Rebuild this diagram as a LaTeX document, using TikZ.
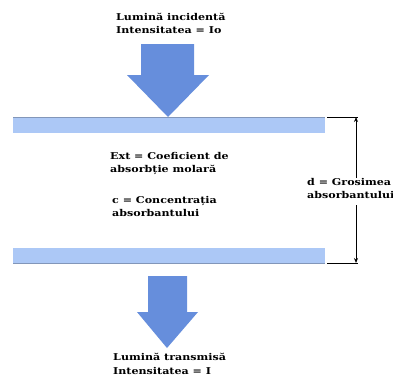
\documentclass[tikz,border=0pt]{standalone}
\usepackage{fontspec}
\newfontfamily\lblfont[FakeStretch=1.18]{DejaVu Serif}
\usepackage{tikz}
\usetikzlibrary{arrows.meta}
\definecolor{arrowblue}{RGB}{102,142,220}
\definecolor{barblue}{RGB}{172,200,246}
\definecolor{baredge}{RGB}{130,150,185}
\begin{document}
\begin{tikzpicture}[x=1pt,y=-1pt,
  lbl/.style={font=\lblfont\fontsize{9.4}{13.5}\selectfont\bfseries, align=left, inner sep=0pt, anchor=north west},
  bar/.style={fill=barblue, draw=none},
  bigarrow/.style={fill=arrowblue, draw=none},
  dimline/.style={draw=black, line width=0.9pt},
]
\useasboundingbox (0,0) rectangle (393,376);
% top label
\node[lbl] (top) at (116,13) {Lumină incidentă\\Intensitatea = Io};
% top arrow
\fill[bigarrow] (141,44) -- (194,44) -- (194,75) -- (209,75) -- (168,117) -- (127,75) -- (141,75) -- cycle;
% bars
\node[bar, minimum width=312, minimum height=16, inner sep=0pt, anchor=north west] (bar1) at (13,117) {};
\draw[baredge, line width=0.6pt] (bar1.north west) -- (bar1.north east);
\node[bar, minimum width=312, minimum height=15, inner sep=0pt, anchor=north west] (bar2) at (13,248) {};
\draw[baredge, line width=0.6pt] (bar2.south west) -- (bar2.south east);
% middle texts
\node[lbl] (ext) at (110,152) {Ext = Coeficient de\\absorbție molară};
\node[lbl] (conc) at (112,196) {c = Concentrația\\absorbantului};
% dimension
\coordinate (t1) at (327,117);
\coordinate (t2) at (358,117);
\coordinate (b1) at (327,263);
\coordinate (b2) at (358,263);
\coordinate (dtop) at (356,117);
\coordinate (dbot) at (356,263);
\draw[dimline] (t1) -- (t2);
\draw[dimline] (b1) -- (b2);
\node[lbl, anchor=north west] (dlab) at (307,178) {d = Grosimea\\absorbantului};
\draw[dimline, -{Stealth[length=5pt,width=4pt]}] (356,178) -- (dtop);
\draw[dimline, -{Stealth[length=5pt,width=4pt]}] (356,205) -- (dbot);
% bottom arrow
\fill[bigarrow] (148,276) -- (187,276) -- (187,312) -- (198,312) -- (167,348) -- (137,312) -- (148,312) -- cycle;
% bottom label
\node[lbl] (bot) at (113,353) {Lumină transmisă\\Intensitatea = I};
\end{tikzpicture}
\end{document}
